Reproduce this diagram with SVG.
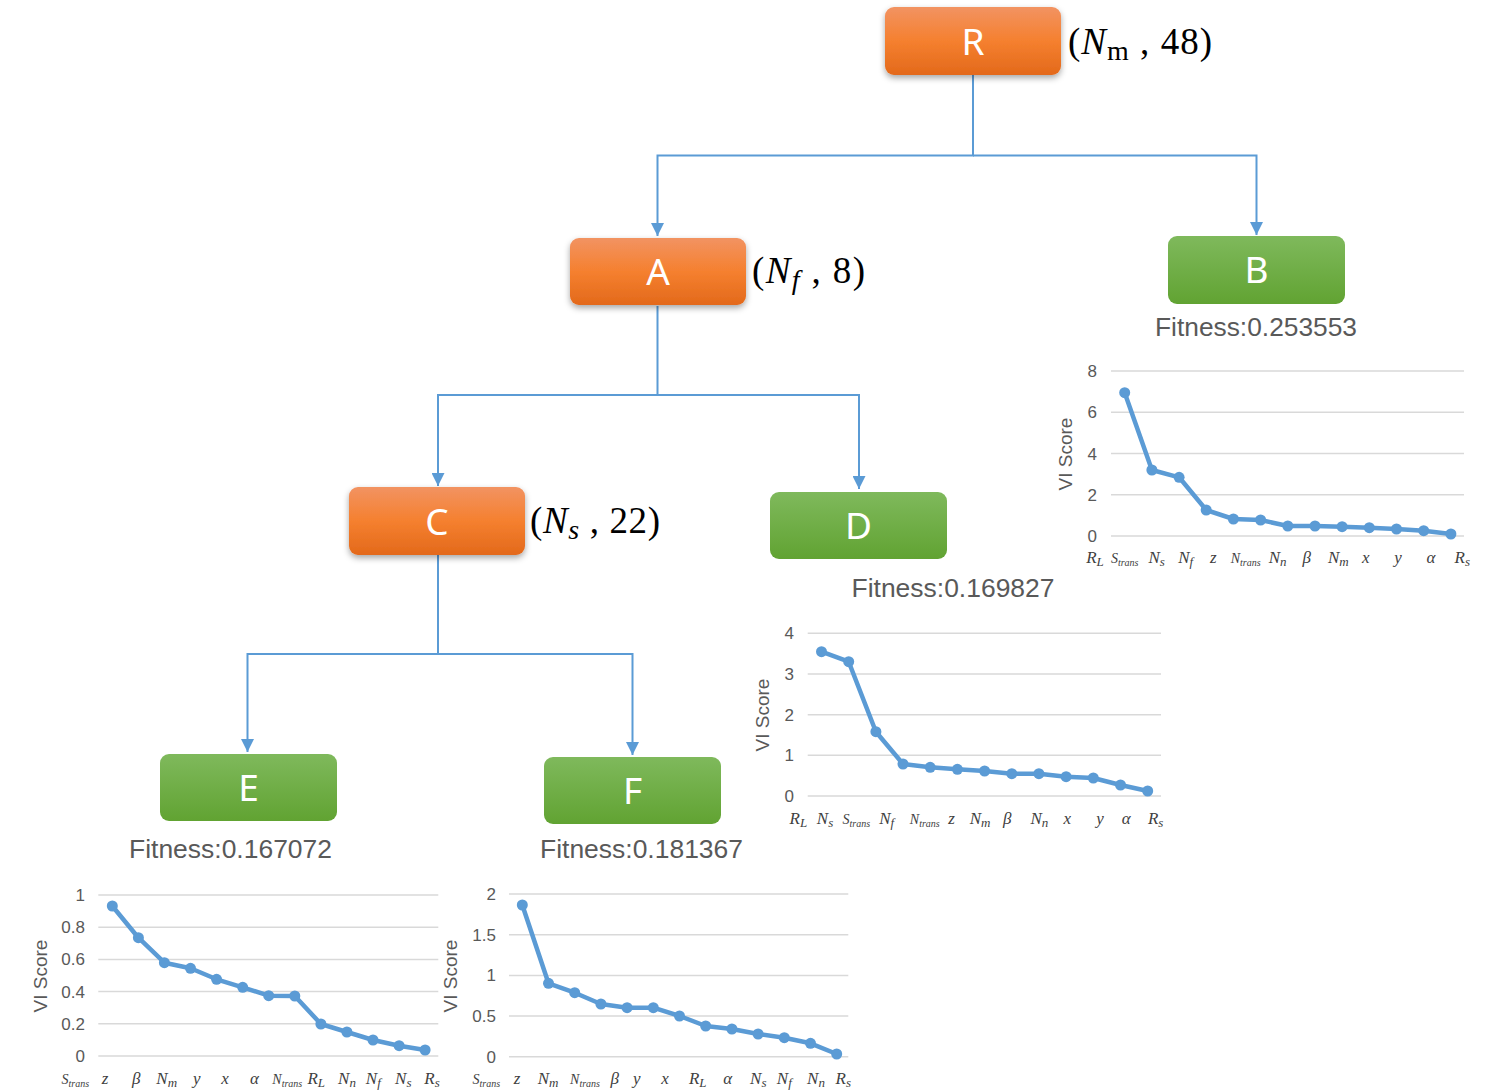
<svg xmlns="http://www.w3.org/2000/svg" width="1486" height="1091" viewBox="0 0 1486 1091">
<style>
.node-text{font-family:"Noto Sans","Liberation Sans",sans-serif;font-size:37px;fill:#ffffff;text-anchor:middle}
.lbl{font-family:"Liberation Serif",serif;font-size:37px;fill:#000000}
.it{font-style:italic}
.fit{font-family:"Liberation Sans",sans-serif;font-size:26px;fill:#595959;text-anchor:middle}
.grid{stroke:#D9D9D9;stroke-width:1.5;fill:none}
.tick{font-family:"Liberation Sans",sans-serif;font-size:17px;fill:#595959;text-anchor:end}
.ylab{font-family:"Liberation Sans",sans-serif;font-size:19px;fill:#595959;text-anchor:middle}
.cat{font-family:"Liberation Serif",serif;font-style:italic;font-size:17px;fill:#404040;text-anchor:middle}
.sm{font-size:13px}
.tr{font-size:14px}
.trs{font-size:10px}
.line{stroke:#5B9BD5;stroke-width:4.5;fill:none;stroke-linejoin:round}
.dot{fill:#5B9BD5}
.conn{stroke:#5B9BD5;stroke-width:2;fill:none}
</style>
<defs>
<linearGradient id="gOrange" x1="0" y1="0" x2="0" y2="1">
<stop offset="0" stop-color="#F29362"/>
<stop offset="0.5" stop-color="#F5802F"/>
<stop offset="1" stop-color="#E3691B"/>
</linearGradient>
<linearGradient id="gGreen" x1="0" y1="0" x2="0" y2="1">
<stop offset="0" stop-color="#7FB95C"/>
<stop offset="1" stop-color="#61A332"/>
</linearGradient>
<filter id="shadow" x="-20%" y="-20%" width="140%" height="150%">
<feDropShadow dx="0" dy="3" stdDeviation="3" flood-color="#000" flood-opacity="0.35"/>
</filter>
<marker id="arr" markerUnits="userSpaceOnUse" markerWidth="13" markerHeight="13" refX="13" refY="6.5" orient="auto">
<path d="M0,0 L13,6.5 L0,13 z" fill="#5B9BD5"/>
</marker>
</defs>

<g id="connectors">
<path class="conn" d="M973,75 V155.5 H657.5 V236" marker-end="url(#arr)"/>
<path class="conn" d="M973,155.5 H1256.5 V235" marker-end="url(#arr)"/>
<path class="conn" d="M657.5,306 V395 H438 V486" marker-end="url(#arr)"/>
<path class="conn" d="M657.5,395 H859 V489" marker-end="url(#arr)"/>
<path class="conn" d="M438,555 V654 H247.5 V752" marker-end="url(#arr)"/>
<path class="conn" d="M438,654 H632.5 V755" marker-end="url(#arr)"/>
</g>

<g id="node-R">
<rect x="885" y="7" width="176" height="68" rx="9" fill="url(#gOrange)" filter="url(#shadow)"/>
<text class="node-text" x="973" y="55">R</text>
<text class="lbl" x="1068" y="54" textLength="144" lengthAdjust="spacing">(<tspan class="it">N</tspan><tspan font-size="28" dy="6">m</tspan><tspan dy="-6"> , 48)</tspan></text>
</g>

<g id="node-A">
<rect x="570" y="238" width="176" height="67" rx="9" fill="url(#gOrange)" filter="url(#shadow)"/>
<text class="node-text" x="658" y="285">A</text>
<text class="lbl" x="752" y="283" textLength="113" lengthAdjust="spacing">(<tspan class="it">N</tspan><tspan class="it" font-size="28" dy="6">f</tspan><tspan dy="-6"> , 8)</tspan></text>
</g>

<g id="node-B">
<rect x="1168" y="236" width="177" height="68" rx="9" fill="url(#gGreen)"/>
<text class="node-text" x="1256.5" y="283">B</text>
<text class="fit" x="1256" y="336" textLength="202" lengthAdjust="spacingAndGlyphs">Fitness:0.253553</text>
</g>

<g id="node-C">
<rect x="349" y="487" width="176" height="68" rx="9" fill="url(#gOrange)" filter="url(#shadow)"/>
<text class="node-text" x="437" y="535">C</text>
<text class="lbl" x="530" y="533" textLength="130" lengthAdjust="spacing">(<tspan class="it">N</tspan><tspan class="it" font-size="28" dy="6">s</tspan><tspan dy="-6"> , 22)</tspan></text>
</g>

<g id="node-D">
<rect x="770" y="492" width="177" height="67" rx="9" fill="url(#gGreen)"/>
<text class="node-text" x="858.5" y="539">D</text>
<text class="fit" x="953" y="597" textLength="203" lengthAdjust="spacingAndGlyphs">Fitness:0.169827</text>
</g>

<g id="node-E">
<rect x="160" y="754" width="177" height="67" rx="9" fill="url(#gGreen)"/>
<text class="node-text" x="248.5" y="801">E</text>
<text class="fit" x="230.5" y="858" textLength="203" lengthAdjust="spacingAndGlyphs">Fitness:0.167072</text>
</g>

<g id="node-F">
<rect x="544" y="757" width="177" height="67" rx="9" fill="url(#gGreen)"/>
<text class="node-text" x="632.5" y="804">F</text>
<text class="fit" x="641.5" y="858" textLength="203" lengthAdjust="spacingAndGlyphs">Fitness:0.181367</text>
</g>

<!-- Chart B -->
<g id="chart-B">
<path class="grid" d="M1111,371 H1464 M1111,412.25 H1464 M1111,453.5 H1464 M1111,494.75 H1464 M1111,536 H1464"/>
<text class="tick" x="1097" y="377">8</text>
<text class="tick" x="1097" y="418">6</text>
<text class="tick" x="1097" y="459.5">4</text>
<text class="tick" x="1097" y="500.5">2</text>
<text class="tick" x="1097" y="542">0</text>
<text class="ylab" transform="translate(1072,454) rotate(-90)">VI Score</text>
<polyline class="line" points="1124.7,392.7 1151.9,470 1179.1,477.3 1206.2,510 1233.4,519 1260.6,520 1287.8,526 1315,526 1342.1,526.7 1369.3,527.7 1396.5,529 1423.7,530.7 1450.9,534"/>
<g class="dot">
<circle cx="1124.7" cy="392.7" r="5.5"/><circle cx="1151.9" cy="470" r="5.5"/><circle cx="1179.1" cy="477.3" r="5.5"/><circle cx="1206.2" cy="510" r="5.5"/><circle cx="1233.4" cy="519" r="5.5"/><circle cx="1260.6" cy="520" r="5.5"/><circle cx="1287.8" cy="526" r="5.5"/><circle cx="1315" cy="526" r="5.5"/><circle cx="1342.1" cy="526.7" r="5.5"/><circle cx="1369.3" cy="527.7" r="5.5"/><circle cx="1396.5" cy="529" r="5.5"/><circle cx="1423.7" cy="530.7" r="5.5"/><circle cx="1450.9" cy="534" r="5.5"/>
</g>
<g>
<text class="cat" x="1095" y="563">R<tspan class="sm" dy="3">L</tspan></text>
<text class="cat tr" x="1124.7" y="563">S<tspan class="trs" dy="3">trans</tspan></text>
<text class="cat" x="1156.7" y="563">N<tspan class="sm" dy="3">s</tspan></text>
<text class="cat" x="1185.7" y="563">N<tspan class="sm" dy="3">f</tspan></text>
<text class="cat" x="1213.3" y="563">z</text>
<text class="cat tr" x="1245.7" y="563">N<tspan class="trs" dy="3">trans</tspan></text>
<text class="cat" x="1277.7" y="563">N<tspan class="sm" dy="3">n</tspan></text>
<text class="cat" x="1306.7" y="563">β</text>
<text class="cat" x="1338.3" y="563">N<tspan class="sm" dy="3">m</tspan></text>
<text class="cat" x="1365.7" y="563">x</text>
<text class="cat" x="1398" y="563">y</text>
<text class="cat" x="1431" y="563">α</text>
<text class="cat" x="1462.3" y="563">R<tspan class="sm" dy="3">s</tspan></text>
</g>
</g>

<!-- Chart D -->
<g id="chart-D">
<path class="grid" d="M807.7,633.3 H1161 M807.7,674 H1161 M807.7,714.7 H1161 M807.7,755.3 H1161 M807.7,796 H1161"/>
<text class="tick" x="794" y="639.3">4</text>
<text class="tick" x="794" y="680">3</text>
<text class="tick" x="794" y="720.7">2</text>
<text class="tick" x="794" y="761.3">1</text>
<text class="tick" x="794" y="802">0</text>
<text class="ylab" transform="translate(769,715) rotate(-90)">VI Score</text>
<polyline class="line" points="821.5,651.7 848.7,661.7 875.9,731.7 903,764 930.2,767.3 957.4,769.3 984.6,771 1011.8,773.7 1038.9,773.7 1066.1,776.7 1093.3,778 1120.5,785 1147.7,791"/>
<g class="dot">
<circle cx="821.5" cy="651.7" r="5.5"/><circle cx="848.7" cy="661.7" r="5.5"/><circle cx="875.9" cy="731.7" r="5.5"/><circle cx="903" cy="764" r="5.5"/><circle cx="930.2" cy="767.3" r="5.5"/><circle cx="957.4" cy="769.3" r="5.5"/><circle cx="984.6" cy="771" r="5.5"/><circle cx="1011.8" cy="773.7" r="5.5"/><circle cx="1038.9" cy="773.7" r="5.5"/><circle cx="1066.1" cy="776.7" r="5.5"/><circle cx="1093.3" cy="778" r="5.5"/><circle cx="1120.5" cy="785" r="5.5"/><circle cx="1147.7" cy="791" r="5.5"/>
</g>
<g>
<text class="cat" x="798.3" y="824">R<tspan class="sm" dy="3">L</tspan></text>
<text class="cat" x="825" y="824">N<tspan class="sm" dy="3">s</tspan></text>
<text class="cat tr" x="856.3" y="824">S<tspan class="trs" dy="3">trans</tspan></text>
<text class="cat" x="886.7" y="824">N<tspan class="sm" dy="3">f</tspan></text>
<text class="cat tr" x="924.8" y="824">N<tspan class="trs" dy="3">trans</tspan></text>
<text class="cat" x="951.5" y="824">z</text>
<text class="cat" x="980" y="824">N<tspan class="sm" dy="3">m</tspan></text>
<text class="cat" x="1007.3" y="824">β</text>
<text class="cat" x="1039.3" y="824">N<tspan class="sm" dy="3">n</tspan></text>
<text class="cat" x="1067.3" y="824">x</text>
<text class="cat" x="1100" y="824">y</text>
<text class="cat" x="1126.3" y="824">α</text>
<text class="cat" x="1155.7" y="824">R<tspan class="sm" dy="3">s</tspan></text>
</g>
</g>

<!-- Chart E -->
<g id="chart-E">
<path class="grid" d="M98.3,895 H438.3 M98.3,927.2 H438.3 M98.3,959.4 H438.3 M98.3,991.6 H438.3 M98.3,1023.8 H438.3 M98.3,1056 H438.3"/>
<text class="tick" x="85" y="901">1</text>
<text class="tick" x="85" y="933.2">0.8</text>
<text class="tick" x="85" y="965.4">0.6</text>
<text class="tick" x="85" y="997.6">0.4</text>
<text class="tick" x="85" y="1029.8">0.2</text>
<text class="tick" x="85" y="1062">0</text>
<text class="ylab" transform="translate(47,976) rotate(-90)">VI Score</text>
<polyline class="line" points="112.3,906 138.4,937.7 164.4,962.7 190.5,968.3 216.6,979.3 242.7,987.3 268.7,995.7 294.8,996 320.9,1024 346.9,1032 373,1040 399.1,1045.7 425.1,1050"/>
<g class="dot">
<circle cx="112.3" cy="906" r="5.5"/><circle cx="138.4" cy="937.7" r="5.5"/><circle cx="164.4" cy="962.7" r="5.5"/><circle cx="190.5" cy="968.3" r="5.5"/><circle cx="216.6" cy="979.3" r="5.5"/><circle cx="242.7" cy="987.3" r="5.5"/><circle cx="268.7" cy="995.7" r="5.5"/><circle cx="294.8" cy="996" r="5.5"/><circle cx="320.9" cy="1024" r="5.5"/><circle cx="346.9" cy="1032" r="5.5"/><circle cx="373" cy="1040" r="5.5"/><circle cx="399.1" cy="1045.7" r="5.5"/><circle cx="425.1" cy="1050" r="5.5"/>
</g>
<g>
<text class="cat tr" x="75.3" y="1084">S<tspan class="trs" dy="3">trans</tspan></text>
<text class="cat" x="105" y="1084">z</text>
<text class="cat" x="136.3" y="1084">β</text>
<text class="cat" x="166.7" y="1084">N<tspan class="sm" dy="3">m</tspan></text>
<text class="cat" x="196.7" y="1084">y</text>
<text class="cat" x="225" y="1084">x</text>
<text class="cat" x="254.5" y="1084">α</text>
<text class="cat tr" x="287.3" y="1084">N<tspan class="trs" dy="3">trans</tspan></text>
<text class="cat" x="316.2" y="1084">R<tspan class="sm" dy="3">L</tspan></text>
<text class="cat" x="347" y="1084">N<tspan class="sm" dy="3">n</tspan></text>
<text class="cat" x="373.3" y="1084">N<tspan class="sm" dy="3">f</tspan></text>
<text class="cat" x="403.3" y="1084">N<tspan class="sm" dy="3">s</tspan></text>
<text class="cat" x="432" y="1084">R<tspan class="sm" dy="3">s</tspan></text>
</g>
</g>

<!-- Chart F -->
<g id="chart-F">
<path class="grid" d="M509,894 H848.3 M509,934.7 H848.3 M509,975.4 H848.3 M509,1016 H848.3 M509,1056.7 H848.3"/>
<text class="tick" x="496" y="900">2</text>
<text class="tick" x="496" y="940.7">1.5</text>
<text class="tick" x="496" y="981.4">1</text>
<text class="tick" x="496" y="1022">0.5</text>
<text class="tick" x="496" y="1062.7">0</text>
<text class="ylab" transform="translate(457,976) rotate(-90)">VI Score</text>
<polyline class="line" points="522.3,905 548.5,983.3 574.7,992.7 600.9,1004 627.1,1007.7 653.3,1007.7 679.5,1016 705.7,1026 731.9,1029 758.1,1034 784.3,1037.7 810.5,1043.3 836.7,1054"/>
<g class="dot">
<circle cx="522.3" cy="905" r="5.5"/><circle cx="548.5" cy="983.3" r="5.5"/><circle cx="574.7" cy="992.7" r="5.5"/><circle cx="600.9" cy="1004" r="5.5"/><circle cx="627.1" cy="1007.7" r="5.5"/><circle cx="653.3" cy="1007.7" r="5.5"/><circle cx="679.5" cy="1016" r="5.5"/><circle cx="705.7" cy="1026" r="5.5"/><circle cx="731.9" cy="1029" r="5.5"/><circle cx="758.1" cy="1034" r="5.5"/><circle cx="784.3" cy="1037.7" r="5.5"/><circle cx="810.5" cy="1043.3" r="5.5"/><circle cx="836.7" cy="1054" r="5.5"/>
</g>
<g>
<text class="cat tr" x="486.3" y="1084">S<tspan class="trs" dy="3">trans</tspan></text>
<text class="cat" x="517" y="1084">z</text>
<text class="cat" x="548" y="1084">N<tspan class="sm" dy="3">m</tspan></text>
<text class="cat tr" x="585" y="1084">N<tspan class="trs" dy="3">trans</tspan></text>
<text class="cat" x="614.7" y="1084">β</text>
<text class="cat" x="636.7" y="1084">y</text>
<text class="cat" x="665" y="1084">x</text>
<text class="cat" x="697.7" y="1084">R<tspan class="sm" dy="3">L</tspan></text>
<text class="cat" x="727.7" y="1084">α</text>
<text class="cat" x="758.3" y="1084">N<tspan class="sm" dy="3">s</tspan></text>
<text class="cat" x="784.3" y="1084">N<tspan class="sm" dy="3">f</tspan></text>
<text class="cat" x="816" y="1084">N<tspan class="sm" dy="3">n</tspan></text>
<text class="cat" x="843.3" y="1084">R<tspan class="sm" dy="3">s</tspan></text>
</g>
</g>
</svg>
